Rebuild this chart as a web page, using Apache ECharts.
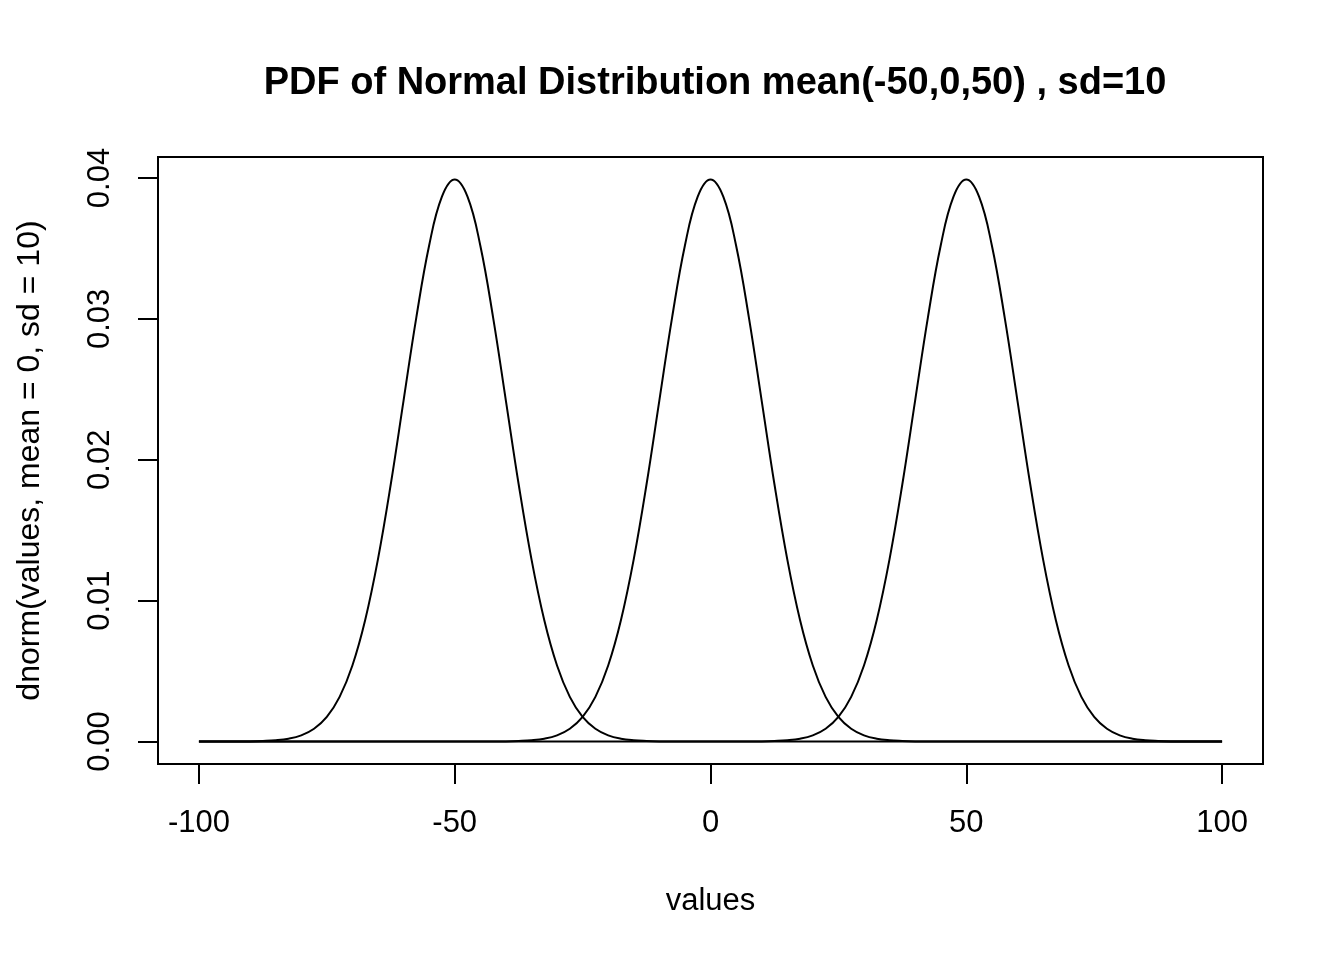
<!DOCTYPE html>
<html>
<head>
    <meta charset="utf-8">
    <script src="https://cdn.jsdelivr.net/npm/echarts@6/dist/echarts.min.js"></script>
    <style>
        html, body { margin: 0; padding: 0; background: #fff; }
    </style>
</head>
<body>
    <div id="main" style="width: 1344px;height:960px;"></div>
<script type="text/javascript">
        // x positions, one every 2.5 units
        var xValues = [
            -100, -97.5, -95, -92.5, -90, -87.5, -85, -82.5, -80, -77.5,
            -75, -72.5, -70, -67.5, -65, -62.5, -60, -57.5, -55, -52.5,
            -50, -47.5, -45, -42.5, -40, -37.5, -35, -32.5, -30, -27.5,
            -25, -22.5, -20, -17.5, -15, -12.5, -10, -7.5, -5, -2.5,
            0, 2.5, 5, 7.5, 10, 12.5, 15, 17.5, 20, 22.5,
            25, 27.5, 30, 32.5, 35, 37.5, 40, 42.5, 45, 47.5,
            50, 52.5, 55, 57.5, 60, 62.5, 65, 67.5, 70, 72.5,
            75, 77.5, 80, 82.5, 85, 87.5, 90, 92.5, 95, 97.5,
            100
        ];

        // density, mean = -50
        var densMinus50 = [
            0, 0, 0, 0,
            0.00001, 0.00004, 0.00009, 0.00020, 0.00044, 0.00091, 0.00175, 0.00317,
            0.00540, 0.00863, 0.01295, 0.01826, 0.02420, 0.03011, 0.03521, 0.03867,
            0.03989,
            0.03867, 0.03521, 0.03011, 0.02420, 0.01826, 0.01295, 0.00863, 0.00540,
            0.00317, 0.00175, 0.00091, 0.00044, 0.00020, 0.00009, 0.00004, 0.00001,
            0, 0, 0, 0, 0, 0, 0, 0, 0, 0, 0,
            0, 0, 0, 0, 0, 0, 0, 0, 0, 0, 0,
            0, 0, 0, 0, 0, 0, 0, 0, 0, 0, 0,
            0, 0, 0, 0, 0, 0, 0, 0, 0, 0, 0
        ];

        // mean = 0
        var dens0 = [
            0, 0, 0, 0, 0, 0, 0, 0, 0, 0, 0, 0,
            0, 0, 0, 0, 0, 0, 0, 0, 0, 0, 0, 0,
            0.00001, 0.00004, 0.00009, 0.00020, 0.00044, 0.00091, 0.00175, 0.00317,
            0.00540, 0.00863, 0.01295, 0.01826, 0.02420, 0.03011, 0.03521, 0.03867,
            0.03989,
            0.03867, 0.03521, 0.03011, 0.02420, 0.01826, 0.01295, 0.00863, 0.00540,
            0.00317, 0.00175, 0.00091, 0.00044, 0.00020, 0.00009, 0.00004, 0.00001,
            0, 0, 0, 0, 0, 0, 0, 0, 0, 0, 0, 0,
            0, 0, 0, 0, 0, 0, 0, 0, 0, 0, 0, 0
        ];

        // mean = 50
        var dens50 = [
            0, 0, 0, 0, 0, 0, 0, 0, 0, 0, 0,
            0, 0, 0, 0, 0, 0, 0, 0, 0, 0, 0,
            0, 0, 0, 0, 0, 0, 0, 0, 0, 0, 0,
            0, 0, 0, 0, 0, 0, 0, 0, 0, 0, 0,
            0.00001, 0.00004, 0.00009, 0.00020, 0.00044, 0.00091, 0.00175, 0.00317,
            0.00540, 0.00863, 0.01295, 0.01826, 0.02420, 0.03011, 0.03521, 0.03867,
            0.03989,
            0.03867, 0.03521, 0.03011, 0.02420, 0.01826, 0.01295, 0.00863, 0.00540,
            0.00317, 0.00175, 0.00091, 0.00044, 0.00020, 0.00009, 0.00004, 0.00001,
            0, 0, 0, 0
        ];

        var xTicks = [-100, -50, 0, 50, 100];
        var yTicks = [0, 0.01, 0.02, 0.03, 0.04];

        var font = "'Liberation Sans', Arial, Helvetica, sans-serif";

        var toPairs = function (ys) {
            var res = [];
            for (var i = 0; i < xValues.length; i++) {
                res.push([xValues[i], ys[i]]);
            }
            return res;
        };

        var curve = function (name, ys) {
            return {
                name: name,
                type: 'line',
                showSymbol: false,
                smooth: 0.4,
                lineStyle: { color: '#000', width: 2 },
                data: toPairs(ys)
            };
        };

        var myChart = echarts.init(document.getElementById('main'));

        var option = {
            animation: false,
            backgroundColor: '#fff',
            title: {
                text: 'PDF of Normal Distribution mean(-50,0,50) , sd=10',
                left: 710,
                top: 60,
                textAlign: 'center',
                textStyle: {
                    color: '#000',
                    fontFamily: font,
                    fontWeight: 'bold',
                    fontSize: 38
                }
            },
            grid: {
                left: 158,
                right: 81,
                top: 157,
                bottom: 196,
                show: true,
                borderColor: '#000',
                borderWidth: 2,
                backgroundColor: 'transparent'
            },
            xAxis: {
                type: 'value',
                min: -108,
                max: 108,
                name: 'values',
                nameLocation: 'middle',
                nameGap: 122,
                nameTextStyle: { color: '#000', fontFamily: font, fontSize: 31 },
                axisLine: { show: false, onZero: false },
                splitLine: { show: false },
                axisTick: {
                    show: true,
                    customValues: xTicks,
                    length: 20,
                    lineStyle: { color: '#000', width: 2 }
                },
                axisLabel: {
                    customValues: xTicks,
                    margin: 44,
                    color: '#000',
                    fontFamily: font,
                    fontSize: 31
                }
            },
            yAxis: {
                type: 'value',
                min: -0.0015958,
                max: 0.0414901,
                name: 'dnorm(values, mean = 0, sd = 10)',
                nameLocation: 'middle',
                nameGap: 112,
                nameTextStyle: { color: '#000', fontFamily: font, fontSize: 32 },
                axisLine: { show: false, onZero: false },
                splitLine: { show: false },
                axisTick: {
                    show: true,
                    customValues: yTicks,
                    length: 20,
                    lineStyle: { color: '#000', width: 2 }
                },
                axisLabel: {
                    customValues: yTicks,
                    rotate: 90,
                    margin: 42,
                    color: '#000',
                    fontFamily: font,
                    fontSize: 31,
                    formatter: function (v) { return v.toFixed(2); }
                }
            },
            series: [
                curve('mean -50', densMinus50),
                curve('mean 0', dens0),
                curve('mean 50', dens50)
            ]
        };

        myChart.setOption(option);
</script>
</body>
</html>
